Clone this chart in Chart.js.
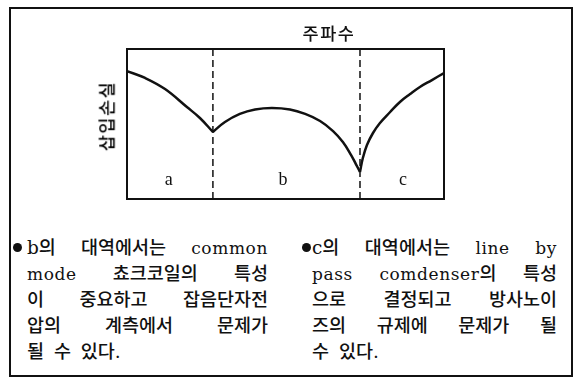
<!DOCTYPE html>
<html><head><meta charset="utf-8">
<script src="https://cdn.jsdelivr.net/npm/chart.js@4.4.1/dist/chart.umd.min.js"></script>
<style>
html,body{margin:0;padding:0;background:#fff;}
body{width:578px;height:379px;position:relative;overflow:hidden;font-family:"Noto Sans CJK KR",sans-serif;color:#111;}
#frame{position:absolute;left:9px;top:7px;width:564px;height:370px;border:2px solid #111;box-sizing:border-box;}
#cv{position:absolute;left:0;top:0;}
#title{position:absolute;left:329px;top:33px;transform:translate(-50%,-50%);font-size:17.5px;font-weight:500;letter-spacing:1.5px;white-space:nowrap;line-height:1;}
#ylab{position:absolute;left:106px;top:116px;transform:translate(-50%,-50%) rotate(-90deg);font-size:17.5px;font-weight:500;letter-spacing:1.5px;white-space:nowrap;line-height:1;color:#000;}
.col{position:absolute;top:235px;font-family:"DejaVu Serif","Noto Sans CJK KR",serif;font-size:18.5px;font-weight:500;line-height:26px;}
.ln{text-align:justify;text-align-last:justify;height:26px;}
.ln.last{text-align:left;text-align-last:left;word-spacing:4px;}
.en{font-size:17px;letter-spacing:0.6px;}
.dot{position:absolute;width:9px;height:9px;border-radius:50%;background:#111;top:243px;}
</style></head>
<body>
<div id="frame"></div>
<canvas id="cv" width="578" height="230"></canvas>
<div id="title">주파수</div>
<div id="ylab">삽입손실</div>
<div class="dot" style="left:13px"></div>
<div class="col" style="left:27px;width:241px">
<div class="ln">b의 대역에서는 <span class="en">common</span></div>
<div class="ln"><span class="en">mode</span> 쵸크코일의 특성</div>
<div class="ln">이 중요하고 잡음단자전</div>
<div class="ln">압의 계측에서 문제가</div>
<div class="ln last">될 수 있다.</div>
</div>
<div class="dot" style="left:302px"></div>
<div class="col" style="left:312px;width:245px">
<div class="ln">c의 대역에서는 <span class="en">line by</span></div>
<div class="ln"><span class="en">pass comdenser</span>의 특성</div>
<div class="ln">으로 결정되고 방사노이</div>
<div class="ln">즈의 규제에 문제가 될</div>
<div class="ln last">수 있다.</div>
</div>
<script>
// frequency (relative, 0..100) and insertion loss (relative, 0..100)
const bandAx = [0, 5.7, 12.0, 18.9, 23.0, 27.1];
const bandAy = [85.3, 80.7, 73.3, 61.3, 54, 44.7];
const bandBx = [27.1, 30.9, 35.6, 40.4, 45.7, 51.4, 56.2, 60.9, 65.0, 68.1, 70.7, 72.2, 73.5];
const bandBy = [44.7, 51.3, 56.7, 59.7, 60.7, 59.7, 56.7, 52, 45.3, 38, 29.3, 23.3, 18];
const bandCx = [73.5, 74.4, 75.7, 77.6, 79.8, 83.0, 86.1, 89.3, 92.4, 96.2, 100];
const bandCy = [18, 27.3, 36, 44, 50.7, 58, 64.7, 70, 74.7, 79.3, 84];
const bandEdges = [27.1, 73.5];
const bandLabels = ['a', 'b', 'c'];
const bandLabelX = [13.2, 49.2, 87.1];
const bandLabelY = 12.7;

const pts = (xs, ys) => xs.map((x, i) => ({x, y: ys[i]}));
const curve = (xs, ys) => ({data: pts(xs, ys), borderColor: '#111', borderWidth: 2.5, pointRadius: 0, tension: 0.4, fill: false});
const edge = x => ({data: [{x, y: 0}, {x, y: 100}], borderColor: '#111', borderWidth: 1.5, borderDash: [7, 4], pointRadius: 0, fill: false});

const deco = {
  id: 'deco',
  afterDatasetsDraw(chart) {
    const {ctx, chartArea: a, scales} = chart;
    ctx.save();
    ctx.strokeStyle = '#111';
    ctx.lineWidth = 2;
    ctx.strokeRect(a.left, a.top, a.right - a.left, a.bottom - a.top);
    ctx.fillStyle = '#111';
    ctx.font = '18px "Liberation Serif", serif';
    ctx.textAlign = 'center';
    ctx.textBaseline = 'middle';
    bandLabels.forEach((t, i) => ctx.fillText(t, scales.x.getPixelForValue(bandLabelX[i]), scales.y.getPixelForValue(bandLabelY)));
    ctx.restore();
  }
};

new Chart(document.getElementById('cv'), {
  type: 'line',
  data: {datasets: [curve(bandAx, bandAy), curve(bandBx, bandBy), curve(bandCx, bandCy), edge(bandEdges[0]), edge(bandEdges[1])]},
  options: {
    responsive: false, animation: false, devicePixelRatio: 1,
    layout: {padding: {left: 127, right: 134, top: 49, bottom: 31}},
    scales: {
      x: {type: 'linear', min: 0, max: 100, display: false},
      y: {type: 'linear', min: 0, max: 100, display: false}
    },
    plugins: {legend: {display: false}, tooltip: {enabled: false}}
  },
  plugins: [deco]
});
</script>
</body></html>
